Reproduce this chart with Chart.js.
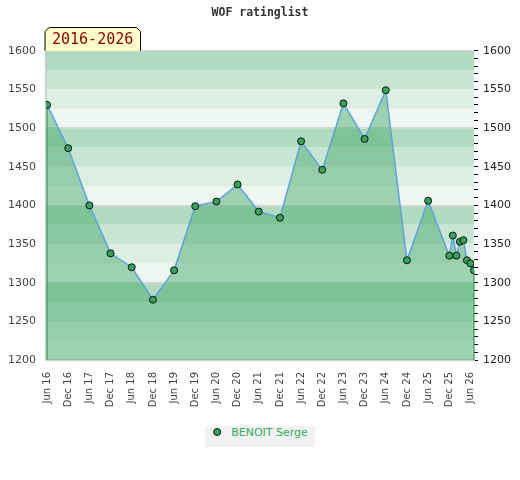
<!DOCTYPE html>
<html>
<head>
<meta charset="utf-8">
<script src="https://cdn.jsdelivr.net/npm/chart.js@4/dist/chart.umd.min.js"></script>
<style>
  body { margin: 0; background: #fff; }
  #wrap { position: relative; width: 520px; height: 480px; }
  #legend {
    position: absolute; top: 426px; left: 50%; transform: translateX(-50%);
    height: 21px; line-height: 21px; padding: 0 7px 0 8px;
    background: #f2f2f2; font: 11px "DejaVu Sans"; white-space: nowrap;
  }
  #legend .dot {
    display: inline-block; width: 6px; height: 6px; border: 1px solid #111;
    border-radius: 50%; margin-right: 10px; vertical-align: 0px;
  }
</style>
</head>
<body>
<div id="wrap">
  <canvas id="ratingChart" width="520" height="480"></canvas>
  <div id="legend"></div>
</div>
<script>
// rating list dates (year-month) and ratings
const listDates = [
  "2016-06", "2016-12", "2017-06", "2017-12", "2018-06", "2018-12",
  "2019-06", "2019-12", "2020-06", "2020-12", "2021-06", "2021-12",
  "2022-06", "2022-12", "2023-06", "2023-12", "2024-06", "2024-12",
  "2025-06", "2025-12", "2026-01", "2026-02", "2026-03", "2026-04",
  "2026-05", "2026-06", "2026-07",
];
const ratings = [
  1530, 1474, 1400, 1338, 1320, 1278, 1316, 1399, 1405, 1427, 1392, 1384,
  1483, 1446, 1532, 1486, 1549, 1329, 1406, 1335, 1361, 1335, 1353, 1355,
  1329, 1325, 1316,
];
const playerName = "BENOIT Serge";
const periodLabel = "2016-2026";
const monthNames = ["Jan", "Feb", "Mar", "Apr", "May", "Jun", "Jul", "Aug", "Sep", "Oct", "Nov", "Dec"];
const startYear = 2016, startMonth = 6;

function monthIndex(s) {
  const [y, m] = s.split("-").map(Number);
  return (y - startYear) * 12 + (m - startMonth);
}
const points = listDates.map((d, i) => ({ x: monthIndex(d), y: ratings[i] }));
const lastIdx = monthIndex(listDates[listDates.length - 1]);

const bandColors = ["#b2dcc2", "#c8e6d3", "#dcefe2", "#eef7f1"];

const bgPlugin = {
  id: "bands",
  beforeDraw(chart) {
    const { ctx, chartArea: a, scales } = chart;
    const y = scales.y;
    ctx.save();
    for (let v = y.min; v < y.max; v += 25) {
      const idx = ((100 - ((v + 25) % 100)) % 100) / 25;
      const top = y.getPixelForValue(v + 25), bot = y.getPixelForValue(v);
      ctx.fillStyle = bandColors[idx];
      ctx.fillRect(a.left, top, a.right - a.left, bot - top);
    }
    ctx.restore();
  },
  beforeDatasetsDraw(chart) {
    const { ctx, chartArea: a, scales } = chart;
    const first = points[0], last = points[points.length - 1];
    ctx.save();
    ctx.strokeStyle = "#2f9a55";
    ctx.lineWidth = 1.2;
    [first, last].forEach(p => {
      const px = scales.x.getPixelForValue(p.x);
      ctx.beginPath();
      ctx.moveTo(px, scales.y.getPixelForValue(p.y));
      ctx.lineTo(px, a.bottom);
      ctx.stroke();
    });
    ctx.restore();
  },
  afterDraw(chart) {
    const { ctx, chartArea: a } = chart;
    const l = a.left - 1, r = 140.5, t = 27.5, b = a.top;
    ctx.save();
    ctx.beginPath();
    ctx.moveTo(l, b);
    ctx.lineTo(l, t + 4);
    ctx.lineTo(l + 4, t);
    ctx.lineTo(r - 4, t);
    ctx.lineTo(r, t + 4);
    ctx.lineTo(r, b);
    ctx.fillStyle = "#ffffcc";
    ctx.fill();
    ctx.strokeStyle = "#000";
    ctx.lineWidth = 1;
    ctx.stroke();
    ctx.fillStyle = "#8b0000";
    ctx.font = "15px 'DejaVu Sans Mono'";
    ctx.textBaseline = "middle";
    ctx.fillText(periodLabel, 52, 40);
    ctx.restore();
  },
};

const htmlLegend = {
  id: "htmlLegend",
  afterUpdate(chart) {
    const box = document.getElementById("legend");
    box.innerHTML = "";
    chart.data.datasets.forEach(ds => {
      const dot = document.createElement("span");
      dot.className = "dot";
      dot.style.background = ds.pointBackgroundColor;
      const txt = document.createElement("span");
      txt.textContent = ds.label;
      txt.style.color = "#33aa5f";
      box.appendChild(dot);
      box.appendChild(txt);
    });
  },
};

const ctx = document.getElementById("ratingChart");
const chart = new Chart(ctx, {
  type: "line",
  data: {
    datasets: [
      {
        label: playerName,
        data: points,
        borderColor: "#5fa2dd",
        borderWidth: 1.5,
        backgroundColor: "rgba(50, 160, 90, 0.42)",
        fill: "start",
        tension: 0,
        pointRadius: 3.5,
        pointBorderWidth: 1,
        pointBorderColor: "#111",
        pointBackgroundColor: "#36a35d",
      },
    ],
  },
  options: {
    responsive: false,
    animation: false,
    layout: { padding: { top: 0, left: 0, right: 0, bottom: 60 } },
    scales: {
      x: {
        type: "linear",
        min: -0.3,
        max: lastIdx,
        grid: { display: false, drawTicks: false },
        border: { color: "#cccccc" },
        ticks: {
          stepSize: 6,
          includeBounds: false,
          autoSkip: false,
          minRotation: 90,
          maxRotation: 90,
          padding: 12,
          color: "#444",
          font: { family: "DejaVu Sans", size: 10 },
          callback: (v) => {
            const m = startMonth - 1 + v;
            const yy = startYear + Math.floor(m / 12);
            return monthNames[m % 12] + " " + String(yy).slice(2);
          },
        },
        afterFit: (s) => { s.height = 60; },
      },
      y: {
        position: "left",
        min: 1200,
        max: 1600,
        grid: {
          drawTicks: false,
          lineWidth: 1.5,
          color: (c) => (c.tick && c.tick.value % 100 === 0 ? "#d6d6d6" : "rgba(0,0,0,0)"),
        },
        border: { color: "#cccccc", width: 1.5 },
        ticks: {
          stepSize: 50,
          autoSkip: false,
          padding: 10,
          color: "#444",
          font: { family: "DejaVu Sans", size: 11 },
          callback: (v) => String(v),
        },
        afterFit: (s) => { s.width = 46; },
      },
      y2: {
        position: "right",
        min: 1200,
        max: 1600,
        grid: { drawOnChartArea: false, tickLength: 4, color: "#000" },
        border: { display: false },
        ticks: {
          stepSize: 10,
          autoSkip: false,
          padding: 5,
          color: "#222",
          font: { family: "DejaVu Sans", size: 11 },
          callback: (v) => (v % 50 === 0 ? String(v) : ""),
        },
        afterFit: (s) => { s.width = 46; },
      },
    },
    plugins: {
      legend: { display: false },
      tooltip: { enabled: false },
      title: {
        display: true,
        text: "WOF ratinglist",
        color: "#333",
        font: { family: "DejaVu Sans Mono", size: 11.5, weight: "bold" },
        padding: { top: 6, bottom: 31 },
      },
    },
  },
  plugins: [bgPlugin, htmlLegend],
});
</script>
</body>
</html>
